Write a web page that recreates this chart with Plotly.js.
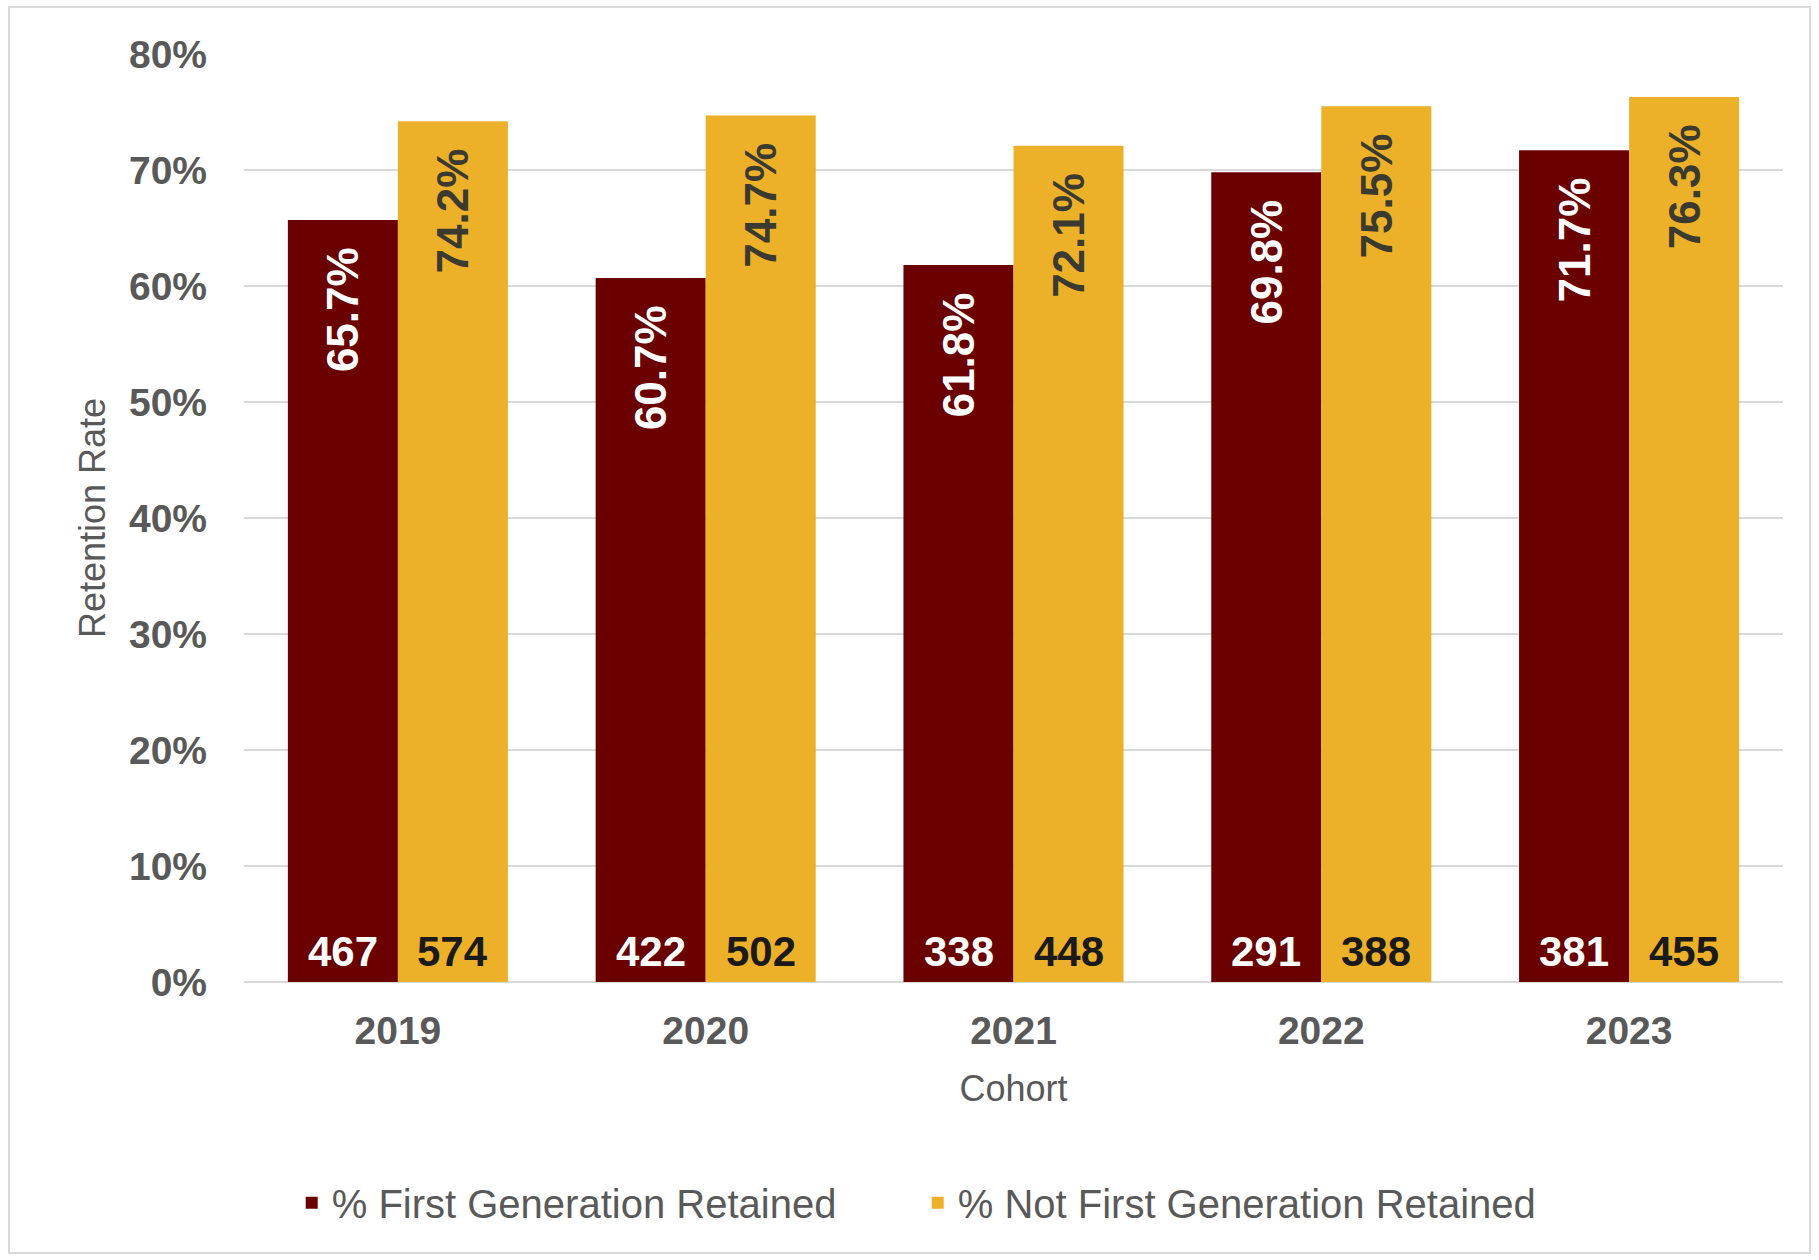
<!DOCTYPE html>
<html>
<head>
<meta charset="utf-8">
<script src="https://cdn.plot.ly/plotly-3.0.1.min.js"></script>
<style>
  html, body { margin: 0; padding: 0; background: #ffffff; }
  #frame { position: absolute; left: 8px; top: 6px; width: 1803px; height: 1248px; border: 2px solid #d9d9d9; box-sizing: border-box; }
  #chart { position: absolute; left: 0; top: 0; width: 1819px; height: 1260px; }
</style>
</head>
<body>
<div id="frame"></div>
<div id="chart"></div>
<script>
const cohorts = ['2019', '2020', '2021', '2022', '2023'];
const firstGenRate = [0.657, 0.607, 0.618, 0.698, 0.717];
const notFirstGenRate = [0.742, 0.747, 0.721, 0.755, 0.763];
const firstGenCount = [467, 422, 338, 291, 381];
const notFirstGenCount = [574, 502, 448, 388, 455];
const yTickVals = [0, 0.1, 0.2, 0.3, 0.4, 0.5, 0.6, 0.7, 0.8];
const yTickText = ['0%', '10%', '20%', '30%', '40%', '50%', '60%', '70%', '80%'];

const MAROON = '#6a0000';
const GOLD = '#edb129';
const GRAY = '#595959';
const FONT = 'Liberation Sans, Arial, sans-serif';
const PAD = '\u00a0\u00a0';

const traces = [
  {
    type: 'bar', name: '% First Generation Retained',
    x: cohorts, y: firstGenRate,
    marker: { color: MAROON, line: { width: 0 } },
    texttemplate: '<b>%{y:.1%}</b>' + PAD,
    textposition: 'inside', insidetextanchor: 'end', textangle: -90,
    insidetextfont: { family: FONT, size: 44, color: '#ffffff' },
    constraintext: 'none', hoverinfo: 'skip'
  },
  {
    type: 'bar', name: '% Not First Generation Retained',
    x: cohorts, y: notFirstGenRate,
    marker: { color: GOLD, line: { width: 0 } },
    texttemplate: '<b>%{y:.1%}</b>' + PAD,
    textposition: 'inside', insidetextanchor: 'end', textangle: -90,
    insidetextfont: { family: FONT, size: 44, color: '#3a3a30' },
    constraintext: 'none', hoverinfo: 'skip'
  }
];

const annotations = [];
cohorts.forEach((c, i) => {
  annotations.push({
    x: i, y: 0, xref: 'x', yref: 'y', xshift: -55, yshift: 5,
    yanchor: 'bottom', xanchor: 'center', showarrow: false,
    text: '<b>' + firstGenCount[i] + '</b>',
    font: { family: FONT, size: 42, color: '#ffffff' }
  });
  annotations.push({
    x: i, y: 0, xref: 'x', yref: 'y', xshift: 55, yshift: 5,
    yanchor: 'bottom', xanchor: 'center', showarrow: false,
    text: '<b>' + notFirstGenCount[i] + '</b>',
    font: { family: FONT, size: 42, color: '#1a1a1a' }
  });
});

const layout = {
  width: 1819, height: 1260,
  margin: { l: 244, r: 36, t: 54, b: 278 },
  paper_bgcolor: 'rgba(0,0,0,0)',
  plot_bgcolor: 'rgba(0,0,0,0)',
  barmode: 'group', bargap: 0.285, bargroupgap: 0,
  font: { family: FONT, color: GRAY },
  xaxis: {
    type: 'category',
    range: [-0.5, cohorts.length - 0.5],
    showgrid: false, showline: false, zeroline: false, ticks: '',
    tickfont: { family: FONT, size: 39, color: GRAY, weight: 'bold' },
    ticklabelstandoff: 22,
    title: { text: 'Cohort', font: { family: FONT, size: 36, color: GRAY }, standoff: 24 }
  },
  yaxis: {
    range: [0, 0.8],
    tickvals: yTickVals, ticktext: yTickText,
    showgrid: true, gridcolor: '#d9d9d9', gridwidth: 2,
    zeroline: true, zerolinecolor: '#d9d9d9', zerolinewidth: 2,
    showline: false, ticks: '',
    tickfont: { family: FONT, size: 39, color: GRAY, weight: 'bold' },
    ticklabelstandoff: 36,
    title: { text: 'Retention Rate', font: { family: FONT, size: 36, color: GRAY }, standoff: 12 }
  },
  showlegend: true,
  legend: {
    orientation: 'h', x: 0.031, xanchor: 'left', y: -0.238, yanchor: 'middle',
    font: { family: FONT, size: 40, color: GRAY },
    traceorder: 'normal', itemwidth: 30,
    entrywidth: 581, entrywidthmode: 'pixels'
  },
  annotations: annotations
};

Plotly.newPlot('chart', traces, layout, { staticPlot: true, displayModeBar: false });
</script>
</body>
</html>
